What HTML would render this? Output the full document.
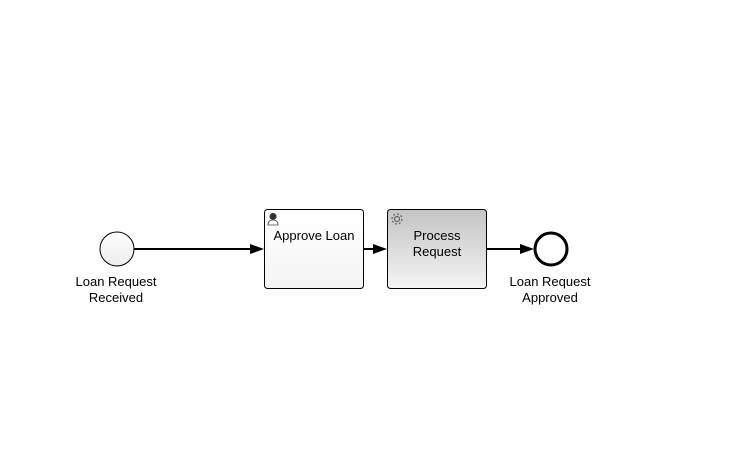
<!DOCTYPE html>
<html><head><style>
body{margin:0;background:#fff;width:755px;height:466px;overflow:hidden}
text{font-family:"Liberation Sans",Arial,sans-serif;font-size:13px;fill:#000}
</style></head><body>
<svg width="755" height="466" xmlns="http://www.w3.org/2000/svg">
<defs>
<linearGradient id="g1" x1="0" y1="0" x2="0" y2="1"><stop offset="0" stop-color="#ffffff"/><stop offset="1" stop-color="#f4f4f4"/></linearGradient>
<linearGradient id="g2" x1="0" y1="0" x2="0" y2="1"><stop offset="0" stop-color="#c4c4c4"/><stop offset="1" stop-color="#f4f4f4"/></linearGradient>
<linearGradient id="g3" x1="0" y1="0" x2="0" y2="1"><stop offset="0" stop-color="#fff"/><stop offset="1" stop-color="#ececec"/></linearGradient>
</defs>
<circle cx="117" cy="249" r="17" fill="url(#g3)" stroke="#000" stroke-width="1"/>
<line x1="134" y1="249" x2="252" y2="249" stroke="#000" stroke-width="2"/>
<polygon points="264,249 250,244 250,254" fill="#000"/>
<rect x="264.5" y="209.5" width="99" height="79" rx="3" fill="url(#g1)" stroke="#000"/>
<g transform="translate(267,212)" fill="#fff" stroke="#444" stroke-width="0.8">
<path d="M1,13 Q1,8 6,8 Q11,8 11,13 Z"/>
<circle cx="6" cy="4.5" r="3.2" fill="#333"/>
</g>
<text x="314" y="240" text-anchor="middle">Approve Loan</text>
<line x1="364" y1="249" x2="376" y2="249" stroke="#000" stroke-width="2"/>
<polygon points="387,249 373,244 373,254" fill="#000"/>
<rect x="387.5" y="209.5" width="99" height="79" rx="3" fill="url(#g2)" stroke="#000"/>
<g transform="translate(397,219)" fill="none" stroke="#666" stroke-width="1.2">
<circle r="5" stroke-dasharray="2 1.9"/><circle r="2.5"/>
</g>
<text x="437" y="240" text-anchor="middle">Process</text>
<text x="437" y="256" text-anchor="middle">Request</text>
<line x1="487" y1="249" x2="522" y2="249" stroke="#000" stroke-width="2"/>
<polygon points="534,249 520,244 520,254" fill="#000"/>
<circle cx="551" cy="249" r="16" fill="#fff" stroke="#000" stroke-width="3"/>
<text x="116" y="286" text-anchor="middle">Loan Request</text>
<text x="116" y="302" text-anchor="middle">Received</text>
<text x="550" y="286" text-anchor="middle">Loan Request</text>
<text x="550" y="302" text-anchor="middle">Approved</text>
</svg>
</body></html>
